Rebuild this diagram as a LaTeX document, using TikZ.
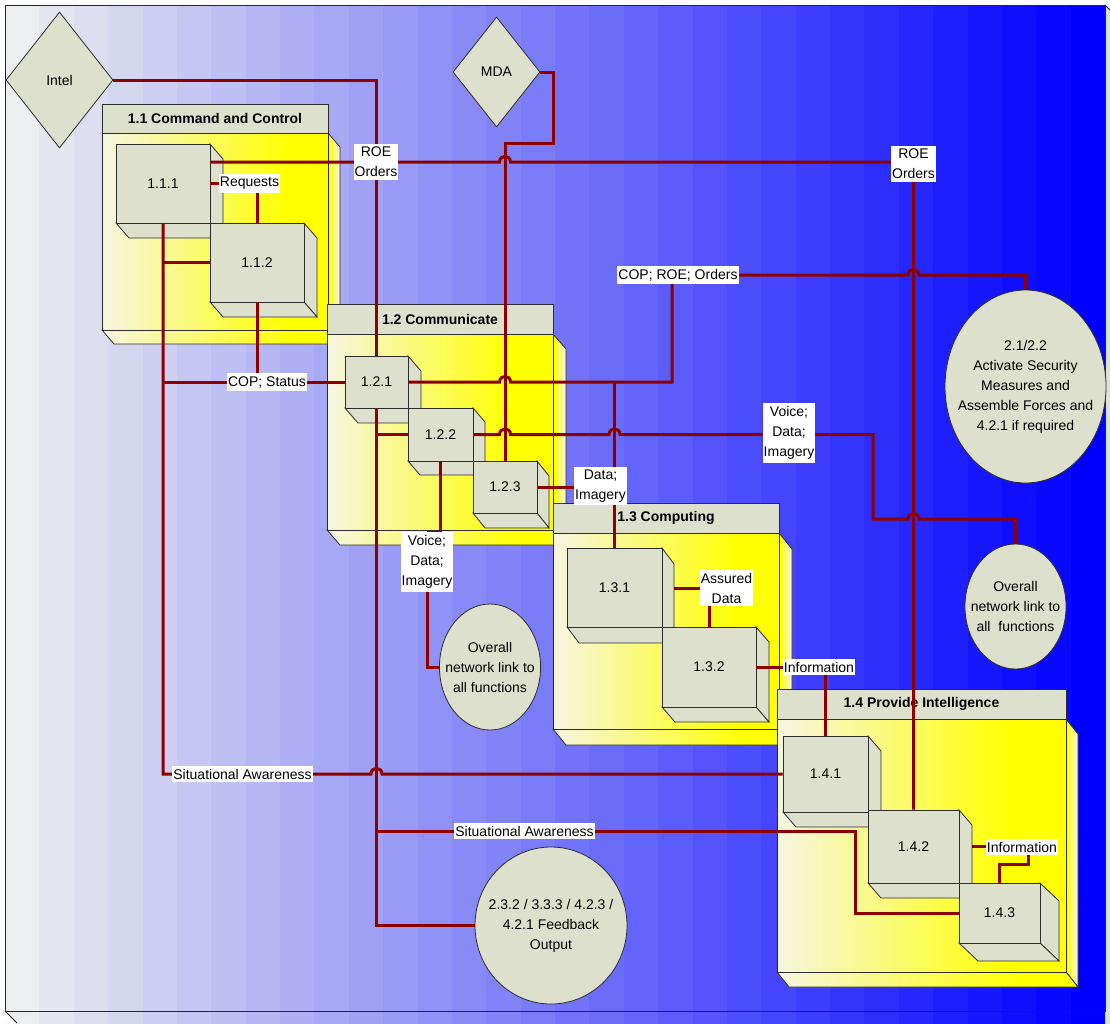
\documentclass[tikz,border=0pt]{standalone}
\usepackage{fontspec}
\setmainfont{Liberation Sans}
\usetikzlibrary{shapes.geometric,calc}

\definecolor{bgleft}{RGB}{236,238,240}
\definecolor{bgright}{RGB}{0,0,255}
\definecolor{beige}{RGB}{221,224,204}
\definecolor{cream}{RGB}{246,246,226}
\definecolor{linkred}{RGB}{140,0,0}
\definecolor{edge}{RGB}{45,45,45}

\pgfdeclarehorizontalshading{bodyshade}{100bp}{color(0bp)=(cream); color(25bp)=(cream); color(66bp)=(yellow); color(100bp)=(yellow)}
\pgfdeclarehorizontalshading{sideshade}{100bp}{color(0bp)=(yellow); color(25bp)=(yellow); color(75bp)=(cream); color(100bp)=(cream)}

\pgfdeclarelayer{tags}
\pgfsetlayers{main,tags}

\tikzset{
  header/.style={draw=edge, line width=0.8pt, fill=beige, inner sep=0pt,
    font=\bfseries\fontsize{14}{17}\selectfont},
  cubeface/.style={draw=edge, line width=0.8pt, fill=beige, inner sep=0pt,
    font=\fontsize{14}{17}\selectfont},
  cubeside/.style={draw=edge, line width=0.8pt, fill=beige},
  gate/.style={diamond, draw=edge, line width=0.8pt, fill=beige, inner sep=0pt,
    font=\fontsize{14}{17}\selectfont},
  bubble/.style={ellipse, draw=edge, line width=0.8pt, fill=beige, inner sep=0pt,
    align=center, font=\fontsize{14}{20}\selectfont},
  lbl/.style={fill=white, inner xsep=1pt, inner ysep=3pt, align=center,
    font=\fontsize{14}{20}\selectfont},
  wireline/.style={draw=linkred, line width=3pt},
  jump/.style 2 args={insert path={-- ({#1-5.5},{#2}) .. controls ({#1-5.5},{#2-7.5}) and ({#1+5.5},{#2-7.5}) .. ({#1+5.5},{#2})}}
}

% function group: name, x1, y1 (header top), x2, yh (header bottom), y2 (body bottom), depth x, depth y, title
\newcommand\groupbox[9]{%
  \path[shade, shading=sideshade, draw=edge, line width=0.8pt]
    (#4,#5) -- ({#4+#7},{#5+#8}) -- ({#4+#7},{#6+#8}) -- (#4,#6) -- cycle;
  \path[shade, shading=bodyshade, draw=edge, line width=0.8pt]
    (#2,#6) -- ({#2+#7},{#6+#8}) -- ({#4+#7},{#6+#8}) -- (#4,#6) -- cycle;
  \path[shade, shading=bodyshade, draw=edge, line width=0.8pt] (#2,#5) rectangle (#4,#6);
  \node[header, minimum width={(#4-#2)*1pt}, minimum height={(#5-#3)*1pt}]
    (#1) at ({(#2+#4)/2},{(#3+#5)/2}) {#9};
}

% process cube: name, x1, y1, x2, y2, depth x, depth y, text
\newcommand\procbox[8]{%
  \draw[cubeside] (#4,#3) -- ({#4+#6},{#3+#7}) -- ({#4+#6},{#5+#7}) -- (#4,#5) -- cycle;
  \draw[cubeside] (#2,#5) -- ({#2+#6},{#5+#7}) -- ({#4+#6},{#5+#7}) -- (#4,#5) -- cycle;
  \node[cubeface, minimum width={(#4-#2)*1pt}, minimum height={(#5-#3)*1pt}]
    (#1) at ({(#2+#4)/2},{(#3+#5)/2}) {#8};
}

\begin{document}
\begin{tikzpicture}[x=1pt,y=-1pt]
\useasboundingbox (0,0) rectangle (1110,1023);
\clip (0,0) rectangle (1110,1023);
\fill[white] (0,0) rectangle (1110,1023);

% striped backdrop, grey on the left to blue on the right
\foreach \i in {0,...,31}{
  \pgfmathsetmacro\mix{100*\i/31}
  \colorlet{stripe}{bgright!\mix!bgleft}
  \fill[stripe] ({5+34.375*\i},5) rectangle ({5+34.375*(\i+1)+0.6},1024);
}
\fill[white] (5,1011) -- (17,1023.5) -- (4,1023.5) -- (4,1011) -- cycle;
\fill[gray!25] (1105,5) -- (1117,17) -- (1117,1024) -- (1105,1024) -- cycle;
\draw[black!85, line width=1pt] (5,5) rectangle (1105,1011);
\draw[black!85, line width=0.8pt] (1105,5) -- (1117,17) (5,1011) -- (17,1023);

% function groups and their sub-functions
\groupbox{g11}{102}{104}{328}{133}{330}{12}{14}{1.1 Command and Control}
\procbox{c111}{116}{144}{210}{223}{13}{15}{1.1.1}
\procbox{c112}{210}{223}{304}{302}{13}{15}{1.1.2}

\groupbox{g12}{327}{304}{553}{334}{530}{13}{15}{1.2 Communicate}
\procbox{c121}{345}{356}{408}{408}{13}{15}{1.2.1}
\procbox{c122}{408}{408}{473}{461}{12}{14}{1.2.2}
\procbox{c123}{473}{461}{537}{513}{12}{15}{1.2.3}

\groupbox{g13}{553}{503}{779}{533}{729}{13}{16}{1.3 Computing}
\procbox{c131}{567}{548}{662}{627}{12}{16}{1.3.1}
\procbox{c132}{662}{627}{756}{707}{13}{15}{1.3.2}

\groupbox{g14}{777}{689}{1066}{719}{972}{12}{15}{1.4 Provide Intelligence}
\procbox{c141}{783}{736}{868}{812}{13}{15}{1.4.1}
\procbox{c142}{868}{810}{959}{883}{13}{15}{1.4.2}
\procbox{c143}{959}{883}{1040}{943}{19}{18}{1.4.3}

% external sources and sinks
\node[gate, minimum width=107pt, minimum height=136pt] (intel) at (59.5,80) {Intel};
\node[gate, minimum width=87pt, minimum height=110pt] (mda) at (496.5,72) {MDA};
\node[bubble, inner xsep=-12pt, minimum width=161pt, minimum height=193pt] (act) at (1025.5,386.5)
  {2.1/2.2\\Activate Security\\Measures and\\Assemble Forces and\\4.2.1 if required};
\node[bubble, inner xsep=-9pt, minimum width=101pt, minimum height=125pt] (netR) at (1015.5,606.5)
  {Overall\\network link to\\all\ \ functions};
\node[bubble, inner xsep=-9pt, minimum width=100pt, minimum height=126pt] (netL) at (490,667)
  {Overall\\network link to\\all functions};
\node[bubble, inner xsep=-11pt, minimum width=152pt, minimum height=157pt] (fb) at (551,925.5)
  {2.3.2 / 3.3.3 / 4.2.3 /\\4.2.1 Feedback\\Output};

% flow labels
\begin{pgfonlayer}{tags}
\node[lbl] (roeL) at (376,162) {ROE\\Orders};
\node[lbl] (roeR) at (913.5,164) {ROE\\Orders};
\node[lbl] (req) at (249.5,183.5) {Requests};
\node[lbl] (copst) at (267,382) {COP; Status};
\node[lbl] (coproe) at (678,275) {COP; ROE; Orders};
\node[lbl] (vdiR) at (789,433) {Voice;\\Data;\\Imagery};
\node[lbl] (vdiL) at (427,562) {Voice;\\Data;\\Imagery};
\node[lbl] (dimg) at (600.5,486) {Data;\\Imagery};
\node[lbl] (assured) at (726.5,588) {Assured\\Data};
\node[lbl] (info1) at (819,667) {Information};
\node[lbl] (info2) at (1022,847) {Information};
\node[lbl] (saL) at (242.5,774) {Situational Awareness};
\node[lbl] (saB) at (524.5,831) {Situational Awareness};
\end{pgfonlayer}

% bend points
\coordinate (mdaturn) at (553,143);
\coordinate (k1) at (672,382);
\coordinate (k2) at (873,519);
\coordinate (k3) at (855,831);
\coordinate (k4) at (1028,864);

% flows
\draw[wireline] (intel.east) -| (c121.north);
\draw[wireline] (c111.east |- roeL) [jump={505}{162}] -- (c142.north |- roeL) -- (c142.north);
\draw[wireline] (c111.east |- req) -| (c112.north);
\draw[wireline] (c111.south) -- (c111.south |- c141.west) [jump={376.5}{774}] -- (c141.west);
\draw[wireline] (c111.south |- c112.west) -- (c112.west);
\draw[wireline] (c111.south |- c121.west) -- (c121.west);
\draw[wireline] (c112.south) -- (c112.south |- c121.west);
\draw[wireline] (mda.east) -| (mdaturn) -| (c123.north);
\draw[wireline] (c121.east) [jump={505}{382}] -- (k1) |- (coproe.east) [jump={913.5}{275}] -- (act.north |- coproe) -- (act.north);
\draw[wireline] (c131.north |- c121.east) -- (c131.north);
\draw[wireline] (c123.east) -| (c131.north);
\draw[wireline] (c122.east) [jump={505}{434.5}] [jump={614.5}{434.5}] -| (k2) [jump={913.5}{519}] -| (netR.north);
\draw[wireline] (c122.south) |- (vdiL.north) -- (vdiL) |- (netL.west);
\draw[wireline] (c121.south) |- (fb.west);
\draw[wireline] (c121.south |- c122.west) -- (c122.west);
\draw[wireline] (c121.south |- saB) -- (k3) |- (c143.west);
\draw[wireline] ([xshift=12pt]c131.east |- assured) -| (c132.north);
\draw[wireline] (c132.east |- info1) -| (c141.north);
\draw[wireline] ([xshift=13pt]c142.east) -| (k4) -| (c143.north);
\end{tikzpicture}
\end{document}
